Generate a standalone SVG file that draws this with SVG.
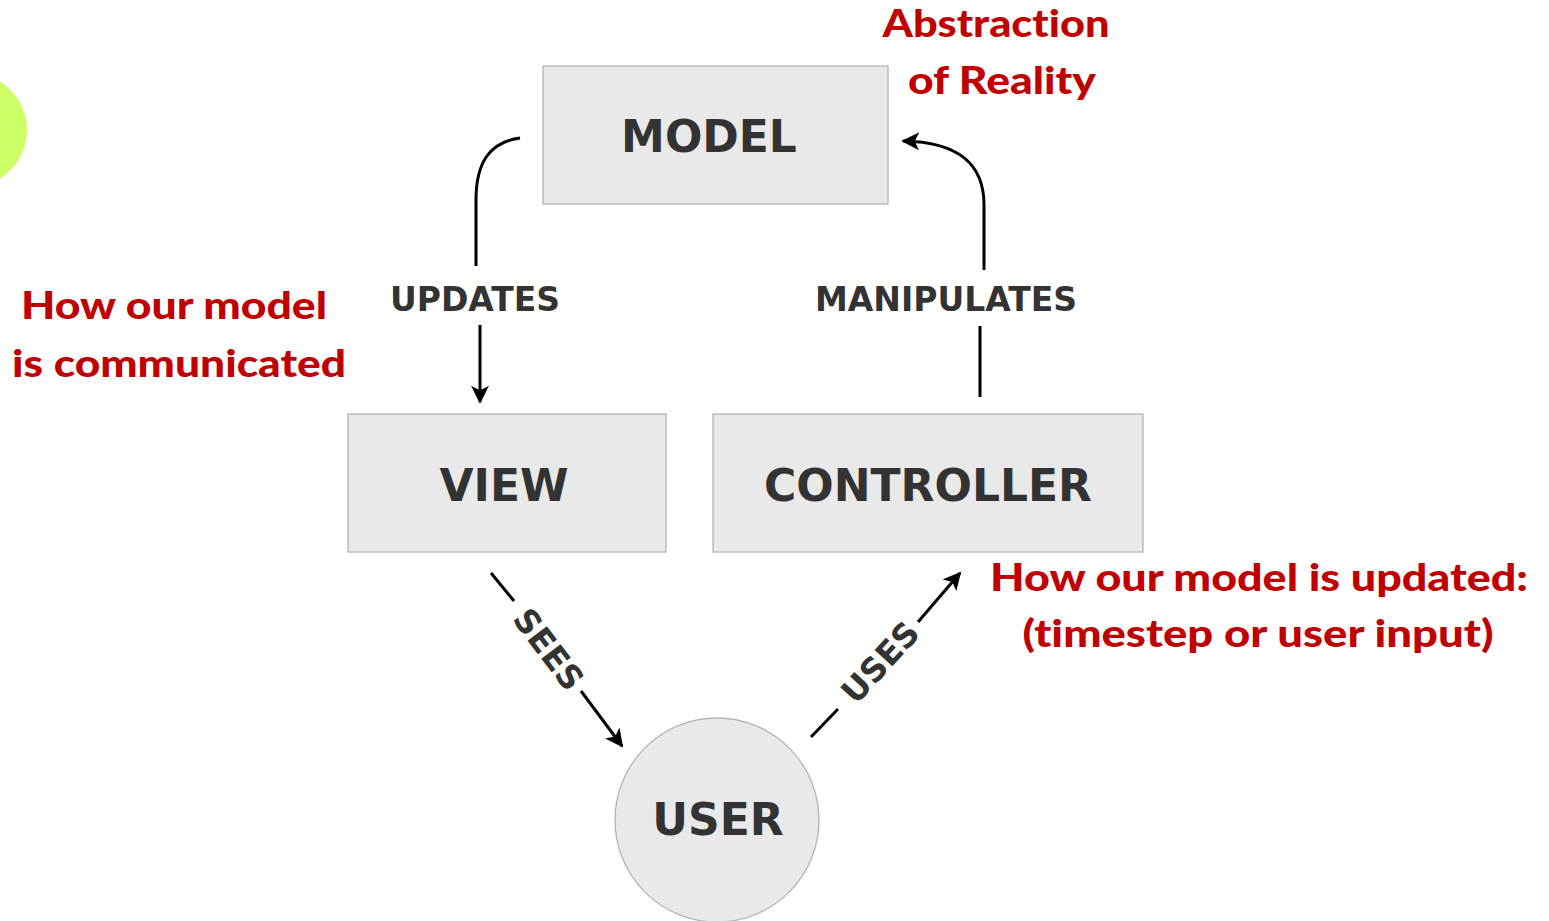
<svg xmlns="http://www.w3.org/2000/svg" width="1549" height="921" viewBox="0 0 1549 921">
  <style>
    .box { fill: #e9e9e9; stroke: #b4b4b4; stroke-width: 1.3; }
    .title { font-family: "DejaVu Sans", sans-serif; font-weight: bold; fill: #333333; text-anchor: middle; }
    .node { font-size: 44px; }
    .edge-label { font-size: 33px; }
    .wire { fill: none; stroke: #000000; stroke-width: 3; }
    .note { font-family: Lato, "Open Sans", sans-serif; font-weight: 900; fill: #c00000; font-size: 38px; text-anchor: middle; font-variant-ligatures: none; }
  </style>
  <defs>
    <marker id="head" viewBox="0 0 10 10" refX="9" refY="5" markerWidth="6" markerHeight="6" orient="auto" markerUnits="strokeWidth">
      <path d="M0,0 L10,5 L0,10 L2.5,5 Z" fill="#000000"/>
    </marker>
  </defs>
  <rect width="1549" height="921" fill="#ffffff"/>

  <!-- partial decorative disc at the left edge -->
  <circle cx="-30" cy="130" r="57" fill="#ccff66"/>

  <!-- nodes -->
  <g id="model">
    <rect class="box" x="543" y="66" width="345" height="138"/>
    <text class="title node" x="709" y="152">MODEL</text>
  </g>
  <g id="view">
    <rect class="box" x="348" y="414" width="318" height="138"/>
    <text class="title node" x="504" y="501">VIEW</text>
  </g>
  <g id="controller">
    <rect class="box" x="713" y="414" width="430" height="138"/>
    <text class="title node" x="928" y="501">CONTROLLER</text>
  </g>
  <g id="user">
    <circle class="box" cx="717" cy="820" r="102"/>
    <text class="title node" x="718" y="835">USER</text>
  </g>

  <!-- connectors -->
  <g id="connectors">
    <!-- model updates view -->
    <path class="wire" d="M520,138 C490,142 476,162 476,200 L476,266"/>
    <path class="wire" d="M480,325 L480,402" marker-end="url(#head)"/>
    <text class="title edge-label" x="475" y="311">UPDATES</text>

    <!-- controller manipulates model -->
    <path class="wire" d="M980,397 L980,326"/>
    <path class="wire" d="M984,270 L984,205 C984,165 960,142 903,141" marker-end="url(#head)"/>
    <text class="title edge-label" x="946" y="311">MANIPULATES</text>

    <!-- user sees view -->
    <path class="wire" d="M491,573 L514,601"/>
    <path class="wire" d="M581,691 L622,746" marker-end="url(#head)"/>
    <text class="title edge-label" transform="translate(549,649) rotate(53)" x="0" y="12">SEES</text>

    <!-- user uses controller -->
    <path class="wire" d="M811,737 L838,709"/>
    <path class="wire" d="M918,622 L960,573" marker-end="url(#head)"/>
    <text class="title edge-label" transform="translate(880,662) rotate(-47.5)" x="0" y="12">USES</text>
  </g>

  <!-- annotations -->
  <g id="notes">
    <text class="note" x="996" y="37" textLength="227" lengthAdjust="spacingAndGlyphs">Abstraction</text>
    <text class="note" x="1002" y="94" textLength="188" lengthAdjust="spacingAndGlyphs">of Reality</text>
    <text class="note" x="174" y="319" textLength="306" lengthAdjust="spacingAndGlyphs">How our model</text>
    <text class="note" x="179" y="377" textLength="334" lengthAdjust="spacingAndGlyphs">is communicated</text>
    <text class="note" x="1259" y="591" textLength="538" lengthAdjust="spacingAndGlyphs">How our model is updated:</text>
    <text class="note" x="1258" y="647" textLength="471" lengthAdjust="spacingAndGlyphs">(timestep or user input)</text>
  </g>
</svg>
